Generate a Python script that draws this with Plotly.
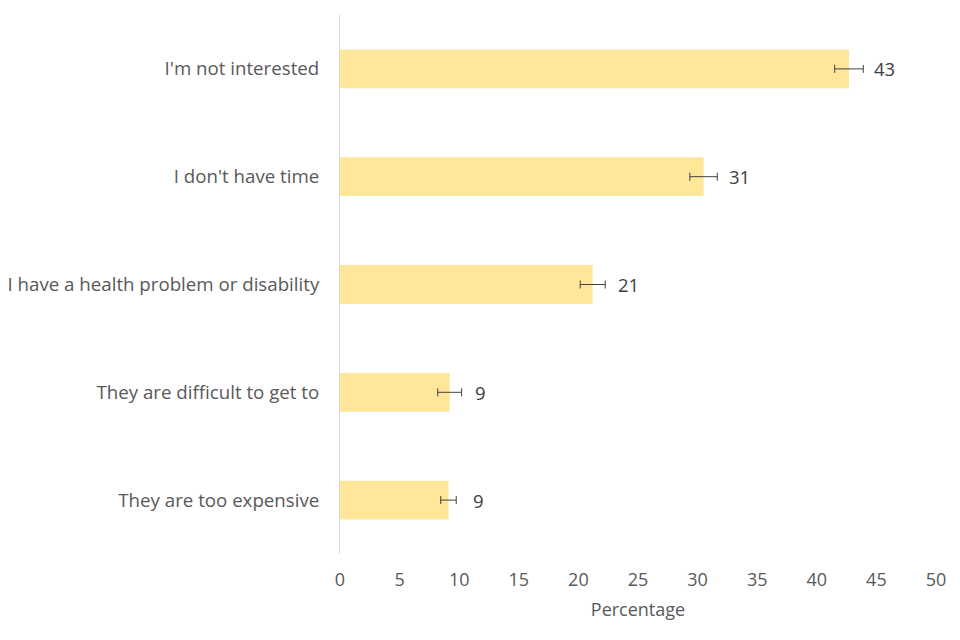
import plotly.graph_objects as go

categories = ["I'm not interested", "I don't have time", "I have a health problem or disability",
              "They are difficult to get to", "They are too expensive"]
values = [42.7, 30.5, 21.2, 9.2, 9.1]
errors = [1.2, 1.15, 1.05, 1.0, 0.65]
labels = ["43", "31", "21", "9", "9"]
x_ticks = [0, 5, 10, 15, 20, 25, 30, 35, 40, 45, 50]

font_family = "Open Sans, Liberation Sans, Arial, sans-serif"
text_color = "#595959"

fig = go.Figure()
fig.add_trace(go.Bar(
    y=categories, x=values, orientation="h",
    marker=dict(color="#FFE699", line=dict(width=0)),
    error_x=dict(type="data", array=errors, visible=True, color="#404040", thickness=1, width=4),
    hoverinfo="skip",
))

for c, v, lab in zip(categories, values, labels):
    fig.add_annotation(x=v, y=c, text=lab, showarrow=False, xanchor="left", xshift=23,
                       font=dict(family=font_family, size=18.5, color="#404040"))

fig.update_layout(
    width=960, height=640,
    margin=dict(l=332, r=32, t=7, b=94),
    plot_bgcolor="white", paper_bgcolor="white",
    bargap=0.64,
    showlegend=False,
    font=dict(family=font_family, size=18, color=text_color),
)
fig.update_yaxes(
    categoryorder="array", categoryarray=categories[::-1],
    showline=True, linecolor="#d9d9d9", linewidth=1,
    showgrid=False, ticks="", ticklabelstandoff=16, automargin=False,
    tickfont=dict(size=18.7, color=text_color),
)
fig.update_xaxes(
    range=[0, 50], tickvals=x_ticks, showgrid=False, zeroline=False, showline=False,
    ticks="", ticklabelstandoff=13, automargin=False,
    tickfont=dict(size=18, color=text_color),
    title=dict(text="Percentage", font=dict(size=18, color=text_color), standoff=13),
)

fig.write_html("out.html")
